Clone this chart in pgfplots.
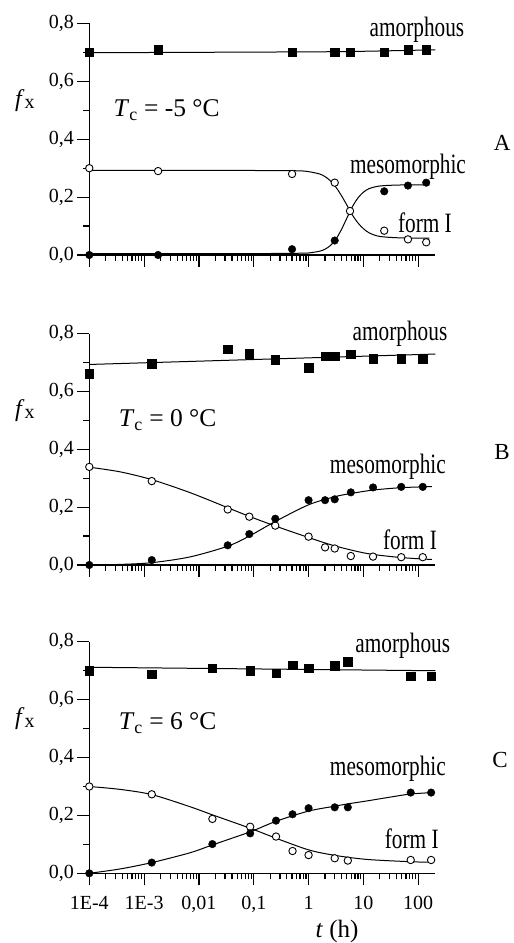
\documentclass[border=0pt]{standalone}
\usepackage{fontspec}
\setmainfont{Liberation Serif}
\newfontfamily\annot{Liberation Serif}[FakeStretch=0.76]
\usepackage{pgfplots}
\pgfplotsset{compat=1.18}
\newcommand{\fs}[1]{\fontsize{#1}{#1}\selectfont}
\tikzset{
 mycrv/.style={black, line width=1pt, smooth},
 mysq/.style={mark=square*, mark size=4.2pt, black},
 myoc/.style={mark=*, mark size=3.7pt, mark options={fill=white, draw=black, line width=0.9pt}},
 myfc/.style={mark=*, mark size=3.8pt, black},
 ann/.style={font=\annot\fs{28}},
 tcl/.style={font=\fs{25.5}, anchor=west},
}
\begin{document}
\begin{tikzpicture}
\useasboundingbox (0pt,0pt) rectangle (514pt,943pt);
% ---------------- Panel A
\begin{axis}[scale only axis, width=346pt, height=231.5pt,
  xmode=log, xmin=1e-4, xmax=205, ymin=0, ymax=0.8,
  axis lines=left, axis line style={-, line width=1.2pt},
  tick align=outside, xtick pos=left, ytick pos=left,
  major tick length=12pt, minor tick length=6pt,
  tick style={line width=1.2pt, black},
  ytick={0,0.2,0.4,0.6,0.8},
  yticklabels={{0,0},{0,2},{0,4},{0,6},{0,8}},
  minor ytick={0.1,0.3,0.5,0.7},
  xtick={1e-4,1e-3,1e-2,1e-1,1,10,100},
  xticklabels={},
  tick label style={font=\fs{20}},
  clip=false,
  at={(89.3pt,688pt)}, anchor=south west]
\addplot[mycrv, no marks] coordinates {(1e-4,0.699)(1,0.702)(10,0.704)(205,0.709)};
\addplot[mycrv, no marks] coordinates {(1e-4,0.292)(0.1,0.292)(0.631,0.291)(1,0.288)(1.585,0.280)(1.995,0.271)(2.512,0.256)(3.162,0.234)(3.981,0.205)(5.012,0.172)(6.31,0.138)(7.943,0.111)(10,0.091)(12.59,0.077)(17.78,0.066)(25.12,0.062)(50.12,0.059)(160,0.058)};
\addplot[mycrv, no marks] coordinates {(1e-4,0.005)(0.1,0.005)(0.631,0.006)(1,0.007)(1.585,0.013)(1.995,0.020)(2.512,0.033)(3.162,0.055)(3.981,0.088)(5.012,0.128)(6.31,0.167)(7.943,0.197)(10,0.217)(12.59,0.229)(17.78,0.237)(25.12,0.240)(50.12,0.242)(160,0.242)};
\addplot[only marks, mysq] coordinates {(1e-4,0.70)(1.8e-3,0.71)(0.5,0.70)(3.0,0.70)(5.7,0.70)(24,0.70)(65,0.71)(140,0.71)};
\addplot[only marks, myoc] coordinates {(1e-4,0.30)(1.8e-3,0.29)(0.5,0.28)(3.0,0.25)(5.7,0.152)(24,0.084)(65,0.054)(140,0.044)};
\addplot[only marks, myfc] coordinates {(1e-4,0)(1.8e-3,0.0)(0.5,0.02)(3.0,0.05)(24,0.22)(65,0.24)(140,0.25)};
\node[ann] at (rel axis cs:0.947,0.971) {amorphous};
\node[ann] at (rel axis cs:0.921,0.38) {mesomorphic};
\node[ann] at (rel axis cs:0.970,0.1375) {form I};
\node[tcl] at (rel axis cs:0.06,0.625) {\textit{T}\textsubscript{c} = -5 °C};
\node[font=\fs{23}] at (rel axis cs:1.193,0.484) {A};
\node[font=\fs{24}] at (rel axis cs:-0.186,0.669) {\textit{f}\raisebox{-0.25ex}{\fs{20}x}};
\end{axis}
% ---------------- Panel B
\begin{axis}[scale only axis, width=346pt, height=231.5pt,
  xmode=log, xmin=1e-4, xmax=205, ymin=0, ymax=0.8,
  axis lines=left, axis line style={-, line width=1.2pt},
  tick align=outside, xtick pos=left, ytick pos=left,
  major tick length=12pt, minor tick length=6pt,
  tick style={line width=1.2pt, black},
  ytick={0,0.2,0.4,0.6,0.8},
  yticklabels={{0,0},{0,2},{0,4},{0,6},{0,8}},
  minor ytick={0.1,0.3,0.5,0.7},
  xtick={1e-4,1e-3,1e-2,1e-1,1,10,100},
  xticklabels={},
  tick label style={font=\fs{20}},
  clip=false,
  at={(89.3pt,378pt)}, anchor=south west]
\addplot[mycrv, no marks] coordinates {(1e-4,0.693)(205,0.729)};
\addplot[mycrv, no marks] coordinates {(1e-4,0.338)(3.63e-4,0.322)(1.38e-3,0.295)(6.9e-3,0.250)(0.0335,0.198)(0.083,0.168)(0.245,0.135)(1,0.095)(3.02,0.066)(11.5,0.040)(46.8,0.026)(178,0.019)};
\addplot[mycrv, no marks] coordinates {(1e-4,0.0)(3.63e-4,0.002)(1.38e-3,0.008)(6.9e-3,0.028)(0.0335,0.065)(0.083,0.100)(0.245,0.150)(1,0.208)(3.02,0.236)(5.9,0.247)(15.1,0.259)(46.8,0.267)(120,0.270)(178,0.271)};
\addplot[only marks, mysq] coordinates {(1e-4,0.661)(1.38e-3,0.695)(0.0335,0.745)(0.083,0.73)(0.247,0.71)(1.0,0.682)(2.0,0.722)(3.0,0.722)(5.9,0.728)(15,0.713)(49,0.713)(121,0.713)};
\addplot[only marks, myoc] coordinates {(1e-4,0.339)(1.38e-3,0.29)(0.0335,0.192)(0.083,0.167)(0.247,0.136)(1.0,0.098)(2.0,0.061)(3.0,0.057)(5.9,0.031)(15,0.029)(49,0.027)(121,0.027)};
\addplot[only marks, myfc] coordinates {(1e-4,0)(1.38e-3,0.017)(0.0335,0.068)(0.083,0.107)(0.247,0.16)(1.0,0.224)(2.0,0.224)(3.0,0.227)(5.9,0.251)(15,0.268)(49,0.27)(121,0.27)};
\node[ann] at (rel axis cs:0.898,1.0) {amorphous};
\node[ann] at (rel axis cs:0.863,0.424) {mesomorphic};
\node[ann] at (rel axis cs:0.927,0.111) {form I};
\node[tcl] at (rel axis cs:0.075,0.625) {\textit{T}\textsubscript{c} = 0 °C};
\node[font=\fs{23}] at (rel axis cs:1.193,0.4875) {B};
\node[font=\fs{24}] at (rel axis cs:-0.186,0.669) {\textit{f}\raisebox{-0.25ex}{\fs{20}x}};
\end{axis}
% ---------------- Panel C
\begin{axis}[scale only axis, width=346pt, height=231.5pt,
  xmode=log, xmin=1e-4, xmax=205, ymin=0, ymax=0.8,
  axis lines=left, axis line style={-, line width=1.2pt},
  tick align=outside, xtick pos=left, ytick pos=left,
  major tick length=12pt, minor tick length=6pt,
  tick style={line width=1.2pt, black},
  ytick={0,0.2,0.4,0.6,0.8},
  yticklabels={{0,0},{0,2},{0,4},{0,6},{0,8}},
  minor ytick={0.1,0.3,0.5,0.7},
  xtick={1e-4,1e-3,1e-2,1e-1,1,10,100},
  xticklabels={1E-4,1E-3,{0,01},{0,1},1,10,100},
  tick label style={font=\fs{20}},
  xticklabel style={yshift=-7pt},
  clip=false,
  at={(89.3pt,69.7pt)}, anchor=south west]
\addplot[mycrv, no marks] coordinates {(1e-4,0.712)(205,0.700)};
\addplot[mycrv, no marks] coordinates {(1e-4,0.300)(3.63e-4,0.290)(1.38e-3,0.272)(6.9e-3,0.230)(0.0176,0.202)(0.0851,0.156)(0.257,0.121)(1,0.081)(3.02,0.062)(11.5,0.048)(72.4,0.040)(186,0.038)};
\addplot[mycrv, no marks] coordinates {(1e-4,0)(3.63e-4,0.015)(1.38e-3,0.037)(6.9e-3,0.071)(0.0176,0.098)(0.0851,0.143)(0.257,0.180)(1,0.215)(3.02,0.232)(5.25,0.240)(11.5,0.250)(30.2,0.263)(72.4,0.274)(186,0.279)};
\addplot[only marks, mysq] coordinates {(1e-4,0.70)(1.38e-3,0.689)(0.0176,0.709)(0.086,0.70)(0.255,0.692)(0.51,0.72)(1.0,0.709)(3.0,0.718)(5.2,0.731)(73,0.682)(172,0.682)};
\addplot[only marks, myoc] coordinates {(1e-4,0.30)(1.38e-3,0.273)(0.0176,0.188)(0.086,0.161)(0.255,0.127)(0.51,0.077)(1.0,0.063)(3.0,0.052)(5.2,0.044)(73,0.046)(172,0.046)};
\addplot[only marks, myfc] coordinates {(1e-4,0)(1.38e-3,0.037)(0.0176,0.101)(0.086,0.138)(0.255,0.182)(0.51,0.204)(1.0,0.225)(3.0,0.228)(5.2,0.228)(73,0.279)(172,0.279)};
\node[ann] at (rel axis cs:0.906,0.983) {amorphous};
\node[ann] at (rel axis cs:0.863,0.45) {mesomorphic};
\node[ann] at (rel axis cs:0.932,0.151) {form I};
\node[tcl] at (rel axis cs:0.075,0.65) {\textit{T}\textsubscript{c} = 6 °C};
\node[font=\fs{23}] at (rel axis cs:1.187,0.4875) {C};
\node[font=\fs{24}] at (rel axis cs:-0.186,0.669) {\textit{f}\raisebox{-0.25ex}{\fs{20}x}};
\node[font=\fs{25}] at (rel axis cs:0.716,-0.253) {\textit{t} (h)};
\end{axis}
\end{tikzpicture}
\end{document}
